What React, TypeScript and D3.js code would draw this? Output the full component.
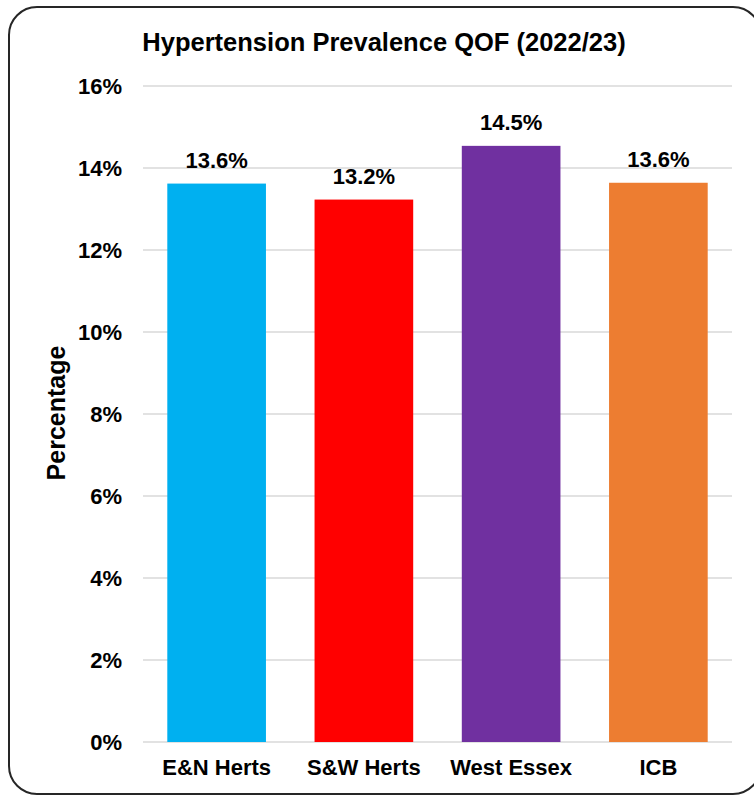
import React from "react";
import * as d3 from "d3";

const categories = ["E&N Herts", "S&W Herts", "West Essex", "ICB"];
const values = [13.62, 13.23, 14.54, 13.64];
const colors = ["#00B0F0", "#FF0000", "#7030A0", "#ED7D31"];
const yTicks = [0, 2, 4, 6, 8, 10, 12, 14, 16];
const title = "Hypertension Prevalence QOF (2022/23)";
const yTitle = "Percentage";

const W = 754;
const H = 796;
const FONT = "'Liberation Sans', Arial, sans-serif";

export default function App() {
  const x = d3
    .scaleBand<string>()
    .domain(categories)
    .range([143, 732])
    .paddingInner(0.33)
    .paddingOuter(0.165);
  const y = d3.scaleLinear().domain([0, 16]).range([742, 86]);

  return (
    <svg
      width={W}
      height={H}
      style={{ position: "absolute", left: 0, top: 0, background: "#fff" }}
      fontFamily={FONT}
    >
      <rect x={0} y={0} width={W} height={H} fill="#fff" />
      <rect
        x={9}
        y={7}
        width={752}
        height={787}
        rx={28}
        ry={28}
        fill="#fff"
        stroke="#262626"
        strokeWidth={2}
      />
      <text
        x={384}
        y={51}
        textAnchor="middle"
        fontSize={25.5}
        fontWeight="bold"
        fill="#000"
      >
        {title}
      </text>
      {yTicks.map((t) => (
        <g key={t}>
          <line
            x1={143}
            x2={732}
            y1={y(t)}
            y2={y(t)}
            stroke="#D9D9D9"
            strokeWidth={1.5}
          />
          <text
            x={122}
            y={y(t) + 8}
            textAnchor="end"
            fontSize={22}
            fontWeight="bold"
            fill="#000"
          >
            {t}%
          </text>
        </g>
      ))}
      {categories.map((c, i) => (
        <g key={c}>
          <rect
            x={x(c)}
            y={y(values[i])}
            width={x.bandwidth()}
            height={y(0) - y(values[i])}
            fill={colors[i]}
          />
          <text
            x={(x(c) as number) + x.bandwidth() / 2}
            y={y(values[i]) - 16}
            textAnchor="middle"
            fontSize={22}
            fontWeight="bold"
            fill="#000"
          >
            {values[i].toFixed(1)}%
          </text>
          <text
            x={(x(c) as number) + x.bandwidth() / 2}
            y={775}
            textAnchor="middle"
            fontSize={22}
            fontWeight="bold"
            fill="#000"
          >
            {c}
          </text>
        </g>
      ))}
      <text
        transform={`translate(65, 413) rotate(-90)`}
        textAnchor="middle"
        fontSize={25}
        fontWeight="bold"
        fill="#000"
      >
        {yTitle}
      </text>
    </svg>
  );
}
